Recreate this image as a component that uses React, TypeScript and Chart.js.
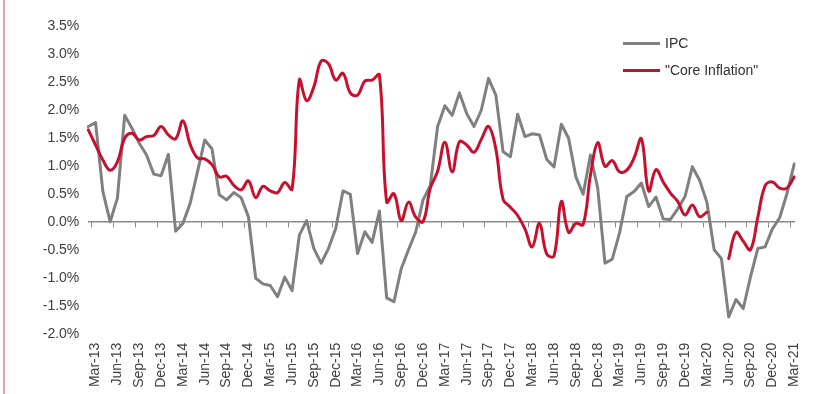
import React, { useEffect, useRef } from "react";
import { Chart, registerables } from "chart.js";

Chart.register(...registerables);

// Monthly categories (Feb-13 .. Mar-21); labels shown every 3rd month from Mar-13
const months = [
  "Feb-13", "Mar-13", "Apr-13", "May-13", "Jun-13", "Jul-13", "Aug-13", "Sep-13", "Oct-13", "Nov-13", "Dec-13",
  "Jan-14", "Feb-14", "Mar-14", "Apr-14", "May-14", "Jun-14", "Jul-14", "Aug-14", "Sep-14", "Oct-14", "Nov-14", "Dec-14",
  "Jan-15", "Feb-15", "Mar-15", "Apr-15", "May-15", "Jun-15", "Jul-15", "Aug-15", "Sep-15", "Oct-15", "Nov-15", "Dec-15",
  "Jan-16", "Feb-16", "Mar-16", "Apr-16", "May-16", "Jun-16", "Jul-16", "Aug-16", "Sep-16", "Oct-16", "Nov-16", "Dec-16",
  "Jan-17", "Feb-17", "Mar-17", "Apr-17", "May-17", "Jun-17", "Jul-17", "Aug-17", "Sep-17", "Oct-17", "Nov-17", "Dec-17",
  "Jan-18", "Feb-18", "Mar-18", "Apr-18", "May-18", "Jun-18", "Jul-18", "Aug-18", "Sep-18", "Oct-18", "Nov-18", "Dec-18",
  "Jan-19", "Feb-19", "Mar-19", "Apr-19", "May-19", "Jun-19", "Jul-19", "Aug-19", "Sep-19", "Oct-19", "Nov-19", "Dec-19",
  "Jan-20", "Feb-20", "Mar-20", "Apr-20", "May-20", "Jun-20", "Jul-20", "Aug-20", "Sep-20", "Oct-20", "Nov-20", "Dec-20",
  "Jan-21", "Feb-21", "Mar-21",
];

const ipc = [
  1.70, 1.77, 0.54, 0.00, 0.42, 1.90, 1.67, 1.40, 1.19, 0.85, 0.82,
  1.20, -0.17, -0.03, 0.33, 0.89, 1.46, 1.30, 0.48, 0.39, 0.52, 0.43, 0.09,
  -1.01, -1.11, -1.14, -1.34, -0.99, -1.23, -0.24, 0.02, -0.48, -0.74, -0.48, -0.12,
  0.55, 0.49, -0.57, -0.18, -0.37, 0.19, -1.36, -1.43, -0.84, -0.50, -0.18, 0.39,
  0.65, 1.70, 2.07, 1.90, 2.30, 1.93, 1.70, 1.99, 2.56, 2.26, 1.25, 1.16,
  1.92, 1.52, 1.57, 1.55, 1.11, 0.98, 1.74, 1.49, 0.80, 0.49, 1.19, 0.60,
  -0.74, -0.67, -0.20, 0.45, 0.54, 0.69, 0.27, 0.44, 0.05, 0.04, 0.23, 0.45,
  0.98, 0.74, 0.35, -0.50, -0.66, -1.70, -1.39, -1.55, -0.98, -0.48, -0.45, -0.13,
  0.07, 0.50, 1.03,
];

const coreInflation: (number | null)[] = [
  1.64, 1.37, 1.10, 0.92, 1.07, 1.49, 1.58, 1.46, 1.52, 1.54, 1.70,
  1.55, 1.48, 1.80, 1.38, 1.14, 1.12, 1.02, 0.80, 0.81, 0.65, 0.57, 0.73,
  0.43, 0.63, 0.55, 0.52, 0.70, 0.58, 2.53, 2.16, 2.41, 2.87, 2.82, 2.53,
  2.65, 2.30, 2.26, 2.51, 2.53, 2.62, 0.35, 0.50, 0.02, 0.35, 0.08, 0.00,
  0.60, 0.90, 1.42, 0.89, 1.43, 1.37, 1.24, 1.47, 1.70, 1.30, 0.40, 0.26,
  0.11, -0.13, -0.45, -0.03, -0.58, -0.61, 0.36, -0.19, -0.03, -0.05, 0.83, 1.41,
  0.99, 1.09, 0.89, 0.92, 1.14, 1.48, 0.55, 0.93, 0.71, 0.51, 0.36, 0.12,
  0.30, 0.09, 0.17, null, null, -0.66, -0.19, -0.35, -0.50, 0.08, 0.64, 0.71,
  0.60, 0.60, 0.80,
];

const seriesNames = ["IPC", "\"Core Inflation\""];
const seriesColors = ["#808080", "#c8102e"];

const FONT = "'Liberation Sans', Arial, Helvetica, sans-serif";
const TEXT = "#404040";

export default function App() {
  const ref = useRef<HTMLCanvasElement | null>(null);

  useEffect(() => {
    if (!ref.current) return;
    const chart = new Chart(ref.current, {
      type: "line",
      data: {
        labels: months,
        datasets: [
          {
            label: seriesNames[0],
            data: ipc,
            borderColor: seriesColors[0],
            backgroundColor: seriesColors[0],
            borderWidth: 3,
            pointRadius: 0,
            tension: 0,
            borderJoinStyle: "round",
            borderCapStyle: "round",
            order: 1,
            xAxisID: "x",
          },
          {
            label: seriesNames[1],
            data: coreInflation,
            borderColor: seriesColors[1],
            backgroundColor: seriesColors[1],
            borderWidth: 3,
            pointRadius: 0,
            tension: 0.4,
            spanGaps: false,
            borderJoinStyle: "round",
            borderCapStyle: "round",
            order: 0,
            xAxisID: "x",
          },
        ],
      },
      options: {
        responsive: false,
        animation: false,
        devicePixelRatio: 1,
        layout: { padding: { left: 0, right: 21.7, top: 25.7, bottom: 0 } },
        plugins: {
          legend: { display: false },
          tooltip: { enabled: false },
        },
        scales: {
          x: {
            type: "category",
            position: "bottom",
            offset: false,
            grid: { display: false, drawTicks: false },
            border: { display: false },
            ticks: {
              autoSkip: false,
              minRotation: 90,
              maxRotation: 90,
              padding: 9,
              color: TEXT,
              font: { family: FONT, size: 14 },
              callback: (_v: any, i: number) => (i % 3 === 1 ? months[i] : ""),
            },
            afterFit: (s: any) => {
              s.height = 60.3;
            },
          },
          x2: {
            type: "category",
            position: { y: 0 } as any,
            offset: false,
            grid: {
              display: true,
              offset: true,
              drawOnChartArea: false,
              drawTicks: true,
              tickLength: 5,
              lineWidth: 1,
              color: (ctx: any) =>
                ctx.index !== undefined && ctx.index % 3 === 1 ? "#8a8a8a" : "rgba(0,0,0,0)",
            },
            border: { display: true, color: "#8a8a8a", width: 1.5 },
            ticks: { display: false, autoSkip: false },
          },
          y: {
            type: "linear",
            min: -2,
            max: 3.5,
            grid: { display: false, drawTicks: false },
            border: { display: false },
            ticks: {
              stepSize: 0.5,
              padding: 9,
              color: TEXT,
              font: { family: FONT, size: 14 },
              callback: (v: any) => Number(v).toFixed(1) + "%",
            },
            afterFit: (s: any) => {
              s.width = 88.3;
            },
          },
        },
      },
    });
    return () => chart.destroy();
  }, []);

  const legendText: React.CSSProperties = {
    position: "absolute",
    left: 665,
    fontFamily: FONT,
    fontSize: 14,
    lineHeight: "16px",
    color: "#303030",
    whiteSpace: "nowrap",
  };

  return (
    <div
      style={{
        position: "fixed",
        left: 0,
        top: 0,
        width: 820,
        height: 394,
        background: "#ffffff",
        overflow: "hidden",
      }}
    >
      <canvas ref={ref} width={820} height={394} style={{ position: "absolute", left: 0, top: 0 }} />
      <div style={{ position: "absolute", left: 3, top: 0, width: 2, height: 394, background: "#e6a2aa" }} />
      <div style={{ position: "absolute", left: 623, top: 42, width: 37, height: 3, background: seriesColors[0] }} />
      <div style={{ ...legendText, top: 35 }}>{seriesNames[0]}</div>
      <div style={{ position: "absolute", left: 623, top: 69, width: 37, height: 3, background: seriesColors[1] }} />
      <div style={{ ...legendText, top: 62 }}>{seriesNames[1]}</div>
    </div>
  );
}
